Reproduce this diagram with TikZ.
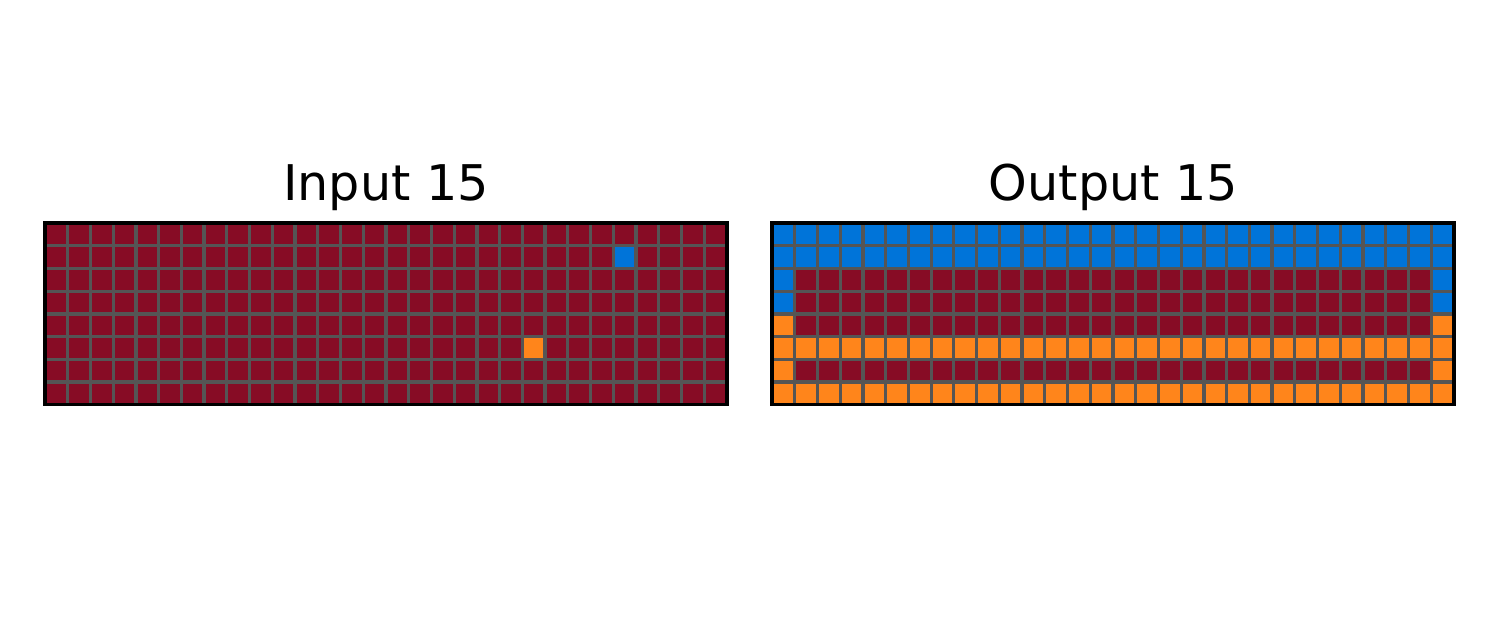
\documentclass[tikz,border=0pt]{standalone}
\usepackage{fontspec}
\setmainfont{DejaVu Sans}
\usetikzlibrary{positioning}

\definecolor{arcred}{HTML}{870C25}
\definecolor{arcblue}{HTML}{0074D9}
\definecolor{arcorange}{HTML}{FF851B}
\definecolor{gridgray}{HTML}{555555}

\begin{document}
\begin{tikzpicture}[
  x=0.02cm, y=-0.02cm,
  title/.style={anchor=base, font=\fontsize{28}{34}\selectfont, inner sep=0pt},
  gridline/.style={draw=gridgray, line width=0.065cm, step=0.4547cm},
  frame/.style={draw=black, line width=0.065cm},
  board/.style={x=0.4547cm, y=-0.4547cm}
]
\useasboundingbox (0,0) rectangle (1500,629);

% Titles
\node[title] (intitle) at (386,200) {Input 15};
\node[title] (outtitle) at (1113.5,200) {Output 15};

% Input grid
\begin{scope}[shift={(45,223)}, board]
  \fill[arcred] (0,0) rectangle (30,8);
  \fill[arcblue] (25,1) rectangle ++(1,1);
  \fill[arcorange] (21,5) rectangle ++(1,1);
  \draw[gridline] (0,0) grid (30,8);
  \draw[frame] (0,0) rectangle (30,8);
\end{scope}

% Output grid
\begin{scope}[shift={(772,223)}, board]
  \fill[arcred] (0,0) rectangle (30,8);
  \fill[arcblue] (0,0) rectangle (30,2);
  \foreach \c in {0,29} {
    \fill[arcblue] (\c,2) rectangle ++(1,2);
    \fill[arcorange] (\c,4) rectangle ++(1,4);
  }
  \foreach \r in {5,7}
    \fill[arcorange] (0,\r) rectangle ++(30,1);
  \draw[gridline] (0,0) grid (30,8);
  \draw[frame] (0,0) rectangle (30,8);
\end{scope}
\end{tikzpicture}
\end{document}
